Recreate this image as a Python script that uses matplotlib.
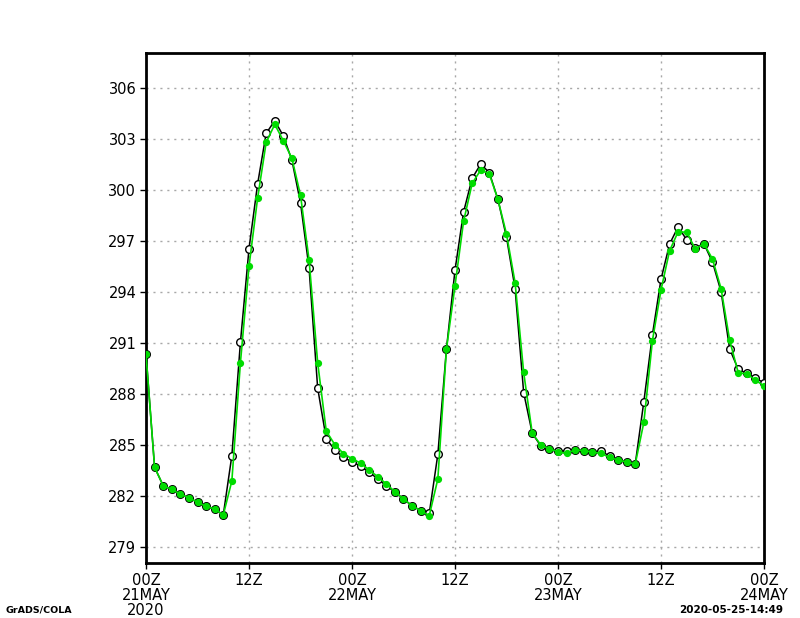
"""Serie horaria 21-24 MAY 2020, estil GrADS."""

import matplotlib

matplotlib.use("Agg")
import matplotlib.pyplot as plt
import numpy as np

# hores des de 00Z 21MAY
hores = np.arange(73)

serie_negra = [
    290.35, 283.69, 282.61, 282.39, 282.10, 281.90, 281.63, 281.39, 281.24, 280.88,
    284.37, 291.04, 296.55, 300.35, 303.33, 304.08, 303.18, 301.75, 299.24, 295.39,
    288.35, 285.37, 284.71, 284.27, 284.02, 283.76, 283.39, 283.02, 282.59, 282.25,
    281.82, 281.43, 281.14, 280.98, 284.45, 290.63, 295.29, 298.71, 300.69, 301.53,
    301.02, 299.45, 297.22, 294.20, 288.08, 285.69, 284.94, 284.76, 284.64, 284.67,
    284.71, 284.67, 284.59, 284.65, 284.35, 284.12, 284.00, 283.88, 287.55, 291.49,
    294.75, 296.82, 297.84, 297.06, 296.61, 296.84, 295.76, 294.02, 290.65, 289.45,
    289.22, 288.92, 288.67,
]

serie_verda = [
    290.35, 283.69, 282.61, 282.39, 282.10, 281.90, 281.63, 281.39, 281.24, 280.88,
    282.88, 289.84, 295.51, 299.51, 302.80, 303.86, 302.90, 301.86, 299.69, 295.88,
    289.84, 285.82, 285.02, 284.50, 284.19, 283.94, 283.53, 283.14, 282.71, 282.25,
    281.82, 281.43, 281.14, 280.84, 283.00, 290.63, 294.37, 298.16, 300.39, 301.18,
    300.94, 299.45, 297.41, 294.55, 289.27, 285.69, 285.01, 284.77, 284.61, 284.51,
    284.71, 284.67, 284.59, 284.51, 284.27, 284.12, 284.00, 283.88, 286.33, 291.14,
    294.12, 296.43, 297.55, 297.51, 296.53, 296.84, 295.94, 294.20, 291.16, 289.25,
    289.18, 288.82, 288.47,
]

y_ticks = [279, 282, 285, 288, 291, 294, 297, 300, 303, 306]
x_ticks = [0, 12, 24, 36, 48, 60, 72]
x_labels = ["00Z\n21MAY\n2020", "12Z", "00Z\n22MAY", "12Z", "00Z\n23MAY", "12Z", "00Z\n24MAY"]

fig = plt.figure(figsize=(8, 6.18), dpi=100)
ax = fig.add_axes([146 / 800, 1 - 563 / 618, 618 / 800, 510 / 618])

ax.plot(
    hores, serie_negra, color="black", lw=1.1, marker="o", ms=5.5,
    mfc="white", mec="black", mew=1.0, zorder=3,
)
ax.plot(
    hores, serie_verda, color="#00dc00", lw=1.2, marker="o", ms=4.2,
    mfc="#00dc00", mec="#00dc00", zorder=4,
)

ax.set_xlim(0, 72)
ax.set_ylim(278.06, 308.06)
ax.set_yticks(y_ticks)
ax.set_xticks(x_ticks)
ax.set_xticklabels(x_labels, linespacing=1.0)
ax.grid(True, color="#a8a8a8", linestyle=(0, (1.5, 3.5)), lw=1.0)
ax.tick_params(direction="out", length=4, width=1, labelsize=10.5, pad=3)

for s in ax.spines.values():
    s.set_linewidth(2)

fig.text(5 / 800, 1 - 610 / 618, "GrADS/COLA", fontsize=6.8, fontweight="bold", va="center")
fig.text(783 / 800, 1 - 610 / 618, "2020-05-25-14:49", fontsize=7.5, fontweight="bold",
         va="center", ha="right")

fig.savefig("out.png", dpi=100)
plt.close(fig)
